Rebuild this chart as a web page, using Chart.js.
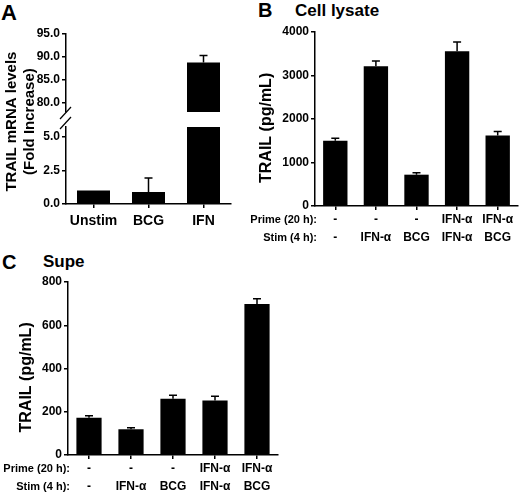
<!DOCTYPE html>
<html>
<head>
<meta charset="utf-8">
<script src="https://cdn.jsdelivr.net/npm/chart.js@4.4.1/dist/chart.umd.min.js"></script>
<style>
body { margin: 0; background: #fff; width: 520px; height: 494px; position: relative; overflow: hidden;
       font-family: "Liberation Sans", Arial, sans-serif; font-weight: bold; color: #000; }
canvas, .lbl { position: absolute; }
.lbl { line-height: 1; white-space: nowrap; }
</style>
</head>
<body>
<div class="lbl" style="left:1px;top:2px;font-size:22px">A</div>
<div class="lbl" style="left:258px;top:0px;font-size:20px">B</div>
<div class="lbl" style="left:295px;top:2px;font-size:17px">Cell lysate</div>
<div class="lbl" style="left:2px;top:252px;font-size:20px">C</div>
<div class="lbl" style="left:43px;top:253px;font-size:17px">Supe</div>
<canvas id="chartA" width="233" height="208" style="left:0;top:24px"></canvas>
<canvas id="chartB" width="275" height="228" style="left:245px;top:22px"></canvas>
<canvas id="chartC" width="280" height="222" style="left:0;top:272px"></canvas>
<script>
// panel A - TRAIL mRNA
let catA = ['Unstim', 'BCG', 'IFN'];
let mrnaFold = [1.0, 0.9, 88.8];
let mrnaErr = [0, 1.05, 1.5];
let ticksLow = [0, 2.5, 5.0];
let ticksHigh = [80, 85, 90, 95];

// panels B and C - TRAIL protein
let primeRow = ['-', '-', '-', 'IFN-α', 'IFN-α'];
let stimRow = ['-', 'IFN-α', 'BCG', 'IFN-α', 'BCG'];
let lysate = [1500, 3210, 720, 3560, 1620];
let lysateErr = [60, 125, 45, 210, 90];
let supe = [172, 119, 260, 252, 698];
let supeErr = [10, 7, 16, 20, 25];
let ticksB = [0, 1000, 2000, 3000, 4000];
let ticksC = [0, 200, 400, 600, 800];

// broken axis ranges for panel A
let lowMax = 5.75;
let highMin = 78;
let highMax = 95;

Chart.defaults.font.family = '"Liberation Sans", Arial, sans-serif';
Chart.defaults.font.weight = 'bold';
Chart.defaults.color = '#000';

let errorBars = {
    id: 'errorBars',
    afterDatasetsDraw(chart) {
        let ctx = chart.ctx;
        chart.data.datasets.forEach((ds, di) => {
            if (!ds.errors) return;
            let meta = chart.getDatasetMeta(di);
            let ys = chart.scales[meta.yAxisID];
            meta.data.forEach((bar, i) => {
                let v = ds.data[i], e = ds.errors[i];
                if (v == null || !e) return;
                let yTop = ys.getPixelForValue(v + e);
                ctx.save();
                ctx.strokeStyle = '#000';
                ctx.lineWidth = 1.5;
                ctx.beginPath();
                ctx.moveTo(bar.x, bar.y);
                ctx.lineTo(bar.x, yTop);
                ctx.moveTo(bar.x - 4, yTop);
                ctx.lineTo(bar.x + 4, yTop);
                ctx.stroke();
                ctx.restore();
            });
        });
    }
};

// "Prime (20 h):" / "Stim (4 h):" row names left of the category labels
let rowHeads = {
    id: 'rowHeads',
    afterDraw(chart) {
        let xs = chart.scales.x, ctx = chart.ctx;
        let lh = 18;
        let y0 = xs.top + 4 + 1 + lh / 2;
        ctx.save();
        ctx.font = 'bold 11px "Liberation Sans", Arial, sans-serif';
        ctx.fillStyle = '#000';
        ctx.textAlign = 'right';
        ctx.textBaseline = 'middle';
        ['Prime (20 h):', 'Stim (4 h):'].forEach((t, i) => ctx.fillText(t, chart.chartArea.left + 2, y0 + i * lh));
        ctx.restore();
    }
};

// the two slashes where the y axis of panel A is cut
let axisBreak = {
    id: 'axisBreak',
    afterDraw(chart) {
        let hi = chart.scales.yHigh, lo = chart.scales.yLow;
        let x = chart.chartArea.left, ctx = chart.ctx;
        ctx.save();
        ctx.strokeStyle = '#000';
        ctx.lineWidth = 1.2;
        [hi.bottom + 1, lo.top - 4].forEach(y => {
            ctx.beginPath();
            ctx.moveTo(x - 6, y + 6);
            ctx.lineTo(x + 5, y - 6);
            ctx.stroke();
        });
        ctx.restore();
    }
};

function xAxis(size, pad, height) {
    return {
        border: { display: true, color: '#000', width: 1.5 },
        grid: { offset: false, drawOnChartArea: false, color: '#000', lineWidth: 1.5, tickLength: 4 },
        ticks: { color: '#000', font: { size: size, weight: 'bold', lineHeight: 1.5 }, padding: pad, maxRotation: 0, autoSkip: false },
        afterFit: s => { s.height = height; }
    };
}

function yAxis(width, tickVals, fmt) {
    return {
        type: 'linear',
        position: 'left',
        border: { display: true, color: '#000', width: 1.5 },
        grid: { drawOnChartArea: false, color: '#000', lineWidth: 1.5, tickLength: 4 },
        ticks: { color: '#000', font: { size: 12, weight: 'bold' }, padding: 2, autoSkip: false, callback: fmt },
        afterBuildTicks: s => { s.ticks = tickVals.map(v => ({ value: v })); },
        afterFit: s => { s.width = width; }
    };
}

function barSet(data, errors, axisId) {
    return {
        data: data,
        errors: errors,
        yAxisID: axisId,
        backgroundColor: '#000',
        borderWidth: 0,
        grouped: false,
        barPercentage: 0.6,
        categoryPercentage: 1
    };
}

let baseOpts = {
    responsive: false,
    animation: false,
    plugins: { legend: { display: false }, tooltip: { enabled: false } }
};

// panel A, broken y axis made of stacked scales
let yHigh = yAxis(66, ticksHigh, v => Number(v).toFixed(1));
Object.assign(yHigh, { min: highMin, max: highMax, stack: 'a', stackWeight: 78, weight: 3 });
let yLow = yAxis(66, ticksLow, v => Number(v).toFixed(1));
Object.assign(yLow, { min: 0, max: lowMax, stack: 'a', stackWeight: 77, weight: 1 });
let yGap = {
    type: 'linear', position: 'left', stack: 'a', stackWeight: 15, weight: 2,
    ticks: { display: false }, grid: { display: false }, border: { display: false },
    title: { display: true, text: ['TRAIL mRNA levels ', '(Fold Increase) '], color: '#000',
             font: { size: 15, weight: 'bold', lineHeight: 1.2 }, padding: { top: 3, bottom: 0 } },
    afterFit: s => { s.width = 66; }
};

let chartA = new Chart(document.getElementById('chartA'), {
    type: 'bar',
    data: {
        labels: catA,
        datasets: [
            barSet(mrnaFold.map(v => v > highMin ? v : null), mrnaErr, 'yHigh'),
            barSet(mrnaFold.map(v => Math.min(v, lowMax)), mrnaFold.map((v, i) => v <= lowMax ? mrnaErr[i] : 0), 'yLow')
        ]
    },
    options: Object.assign({}, baseOpts, {
        layout: { padding: { top: 10, right: 2, left: 0, bottom: 0 } },
        scales: { x: xAxis(14, 3, 28), yHigh: yHigh, yGap: yGap, yLow: yLow }
    }),
    plugins: [errorBars, axisBreak]
});

// panels B and C
let labelsBC = primeRow.map((p, i) => [p, stimRow[i]]);

function proteinChart(id, values, errors, tickVals, yWidth, xHeight, titlePad) {
    let y = yAxis(yWidth, tickVals);
    y.min = tickVals[0];
    y.max = tickVals[tickVals.length - 1];
    y.title = { display: true, text: 'TRAIL (pg/mL)    ', color: '#000',
                font: { size: 16, weight: 'bold', lineHeight: 1.2 }, padding: { top: titlePad, bottom: 0 } };
    return new Chart(document.getElementById(id), {
        type: 'bar',
        data: { labels: labelsBC, datasets: [barSet(values, errors, 'y')] },
        options: Object.assign({}, baseOpts, {
            layout: { padding: { top: 10, right: 2, left: 0, bottom: 0 } },
            scales: { x: xAxis(12, 1, xHeight), y: y }
        }),
        plugins: [errorBars, rowHeads]
    });
}

let chartB = proteinChart('chartB', lysate, lysateErr, ticksB, 70, 44, 12);
let chartC = proteinChart('chartC', supe, supeErr, ticksC, 68, 39, 17);
</script>
</body>
</html>
